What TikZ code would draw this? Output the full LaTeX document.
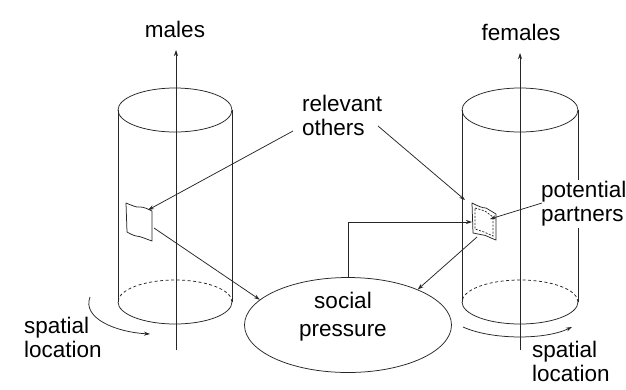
\documentclass[tikz,border=0pt]{standalone}
\usepackage{fontspec}
\setmainfont{Liberation Sans}
\usetikzlibrary{arrows.meta,shapes.geometric}

\tikzset{
  ln/.style={draw=black!85, line width=0.75pt},
  backedge/.style={ln, dash pattern=on 3pt off 2.5pt},
  arr/.style={ln, -{Stealth[length=6pt,width=4pt]}},
  lbl/.style={font=\fontsize{22.5}{24}\selectfont, inner sep=1pt, align=left},
  patchbox/.style={ln, fill=white, line join=round},
}

\begin{document}
\begin{tikzpicture}[x=1pt, y=-1pt]
  % page frame
  \fill[white] (0,0) rectangle (626,389);
  \useasboundingbox (0,0) rectangle (626,389);

  % ---- left cylinder (males) ----
  \draw[ln] (118,110) -- (118,302);
  \draw[ln] (232,110) -- (232,302);
  \draw[ln] (175,110) ellipse [x radius=57pt, y radius=22pt];
  \draw[backedge] (232,302) arc [start angle=0, end angle=180, x radius=57pt, y radius=22pt];
  \draw[ln] (232,302) arc [start angle=0, end angle=-180, x radius=57pt, y radius=22pt];

  % ---- right cylinder (females) ----
  \draw[ln] (462,110) -- (462,302);
  \draw[ln] (578,110) -- (578,302);
  \draw[ln] (520,110) ellipse [x radius=58pt, y radius=22pt];
  \draw[backedge] (578,302) arc [start angle=0, end angle=180, x radius=58pt, y radius=22pt];
  \draw[ln] (578,302) arc [start angle=0, end angle=-180, x radius=58pt, y radius=22pt];

  % ---- axes ----
  \coordinate (mbase) at (176,350);
  \coordinate (mtop) at (176,50);
  \coordinate (fbase) at (520,350);
  \coordinate (ftop) at (520,53);
  \draw[arr] (mbase) -- (mtop);
  \draw[arr] (fbase) -- (ftop);
  \node[lbl] (males) at (175,29) {males};
  \node[lbl] (females) at (521,32) {females};

  % ---- patches on the cylinder walls ----
  \draw[patchbox] (126,203) .. controls (131,205) and (137,208) .. (140,207)
      .. controls (144,207) and (148,209) .. (152,211) -- (152,241)
      .. controls (146,239) and (140,236) .. (136,236)
      .. controls (132,235) and (129,233) .. (127,232) -- cycle;
  \draw[patchbox] (472,203) .. controls (478,206) and (482,208) .. (486,208)
      -- (496,214) -- (496,240) .. controls (490,238) and (486,235) .. (483,235)
      -- (473,233) -- cycle;
  \draw[ln, dash pattern=on 2pt off 1.5pt] (475,208) -- (485,211) -- (493,217) -- (493,236) -- (484,232) -- (475,229) -- cycle;

  \coordinate (lpin) at (148,210);
  \coordinate (lpout) at (154,228);
  \coordinate (rptop) at (465,200);
  \coordinate (rpleft) at (472,222);
  \coordinate (rpin) at (490,219);
  \coordinate (rpout) at (477,237);

  % ---- social pressure ----
  \node[ln, ellipse, minimum width=207pt, minimum height=95pt, inner sep=0pt] (sp) at (348,325) {};
  \node[lbl, align=center] (sptext) at (343,317) {social\\[4pt]pressure};

  % ---- labels ----
  \node[lbl, anchor=west] (rel) at (301,115) {relevant\\others};
  \node[lbl, anchor=west, fill=white, inner sep=2pt] (pot) at (539,204) {potential\\partners};
  \node[lbl, anchor=west] (spl) at (23,337) {spatial\\location};
  \node[lbl, anchor=west] (spr) at (531,361) {spatial\\location};

  \coordinate (relL) at (293,131);
  \coordinate (relR) at (378,126);
  \coordinate (potL) at (542,203);

  % ---- connectors ----
  \draw[arr] (relL) -- (lpin);
  \draw[arr] (relR) -- (rptop);
  \draw[arr] (lpout) -- (sp.164);
  \draw[arr] (sp.north) |- (rpleft);
  \draw[arr] (potL) -- (rpin);
  \draw[arr] (rpout) -- (sp.27);

  % ---- rotation arrows (spatial location) ----
  \coordinate (lrs) at (90,297);
  \coordinate (lre) at (150,334);
  \coordinate (rrs) at (463,327);
  \coordinate (rre) at (572,327);
  \draw[arr] (lrs) .. controls (82,318) and (115,332) .. (lre);
  \draw[arr] (rrs) .. controls (492,340) and (545,340) .. (rre);
\end{tikzpicture}
\end{document}
